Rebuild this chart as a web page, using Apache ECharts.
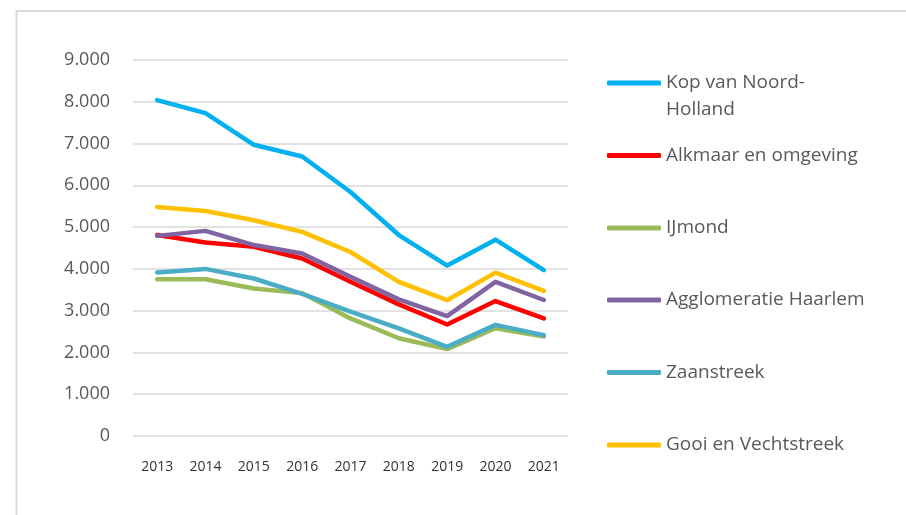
<!DOCTYPE html>
<html>
<head>
<meta charset="utf-8">
<script src="https://cdn.jsdelivr.net/npm/echarts@6/dist/echarts.min.js"></script>
<style>
html,body{margin:0;padding:0;background:#fff;}
#chart{width:906px;height:515px;}
</style>
</head>
<body>
<div id="chart"></div>
<script>
const years = ['2013','2014','2015','2016','2017','2018','2019','2020','2021'];
const seriesNames = ['Kop van Noord-Holland','Alkmaar en omgeving','IJmond','Agglomeratie Haarlem','Zaanstreek','Gooi en Vechtstreek'];
const kopVanNoordHolland = [8040, 7730, 6970, 6690, 5840, 4810, 4080, 4700, 3970];
const alkmaarEnOmgeving = [4810, 4630, 4530, 4250, 3690, 3150, 2670, 3230, 2815];
const ijmond = [3750, 3750, 3530, 3420, 2815, 2340, 2080, 2580, 2380];
const agglomeratieHaarlem = [4790, 4910, 4570, 4370, 3810, 3270, 2870, 3690, 3255];
const zaanstreek = [3915, 4000, 3770, 3400, 2975, 2575, 2135, 2660, 2415];
const gooiEnVechtstreek = [5480, 5385, 5165, 4885, 4405, 3690, 3250, 3910, 3475];
const yTicks = {min: 0, max: 9000, interval: 1000};

const values = [kopVanNoordHolland, alkmaarEnOmgeving, ijmond, agglomeratieHaarlem, zaanstreek, gooiEnVechtstreek];
const colors = ['#00b0f0', '#ff0000', '#9bbb59', '#8064a2', '#4bacc6', '#ffc000'];
const legendIconY = [83, 155.5, 228, 300, 372.5, 445];

function fmt(v) {
  if (v === 0) return '0';
  return String(v).replace(/\B(?=(\d{3})+(?!\d))/g, '.');
}

const legends = seriesNames.map(function (name, i) {
  const multi = i === 0;
  return {
    data: [name],
    orient: 'vertical',
    left: 607,
    top: multi ? legendIconY[i] - 40.5 : legendIconY[i] - 10,
    padding: 0,
    icon: 'roundRect',
    itemWidth: 54,
    itemHeight: 5,
    selectedMode: false,
    formatter: multi ? function () { return '\nKop van Noord-\nHolland'; } : '{name}',
    textStyle: multi ? {
      fontFamily: 'Open Sans', fontSize: 19, color: '#595959', lineHeight: 27
    } : {
      fontFamily: 'Open Sans', fontSize: 19, color: '#595959', lineHeight: 20
    }
  };
});

const chart = echarts.init(document.getElementById('chart'), null, {renderer: 'canvas'});
chart.setOption({
  backgroundColor: '#ffffff',
  animation: false,
  color: colors,
  graphic: [{
    type: 'rect',
    shape: {x: 16.5, y: 11, width: 900, height: 520},
    style: {fill: 'none', stroke: '#d9d9d9', lineWidth: 2},
    silent: true, z: -10
  }],
  legend: legends,
  grid: {left: 133, right: 338, top: 60, bottom: 79, containLabel: false},
  xAxis: {
    type: 'category',
    data: years,
    boundaryGap: true,
    axisLine: {show: false},
    axisTick: {show: false},
    axisLabel: {margin: 24, fontFamily: 'Open Sans', fontSize: 14, color: '#333333'}
  },
  yAxis: {
    type: 'value',
    min: yTicks.min, max: yTicks.max, interval: yTicks.interval,
    axisLine: {show: false},
    axisTick: {show: false},
    splitLine: {lineStyle: {color: '#d9d9d9', width: 1.5}},
    axisLabel: {margin: 23, fontFamily: 'Open Sans', fontSize: 18, color: '#595959', formatter: fmt}
  },
  series: seriesNames.map(function (name, i) {
    return {
      name: name,
      type: 'line',
      data: values[i],
      symbol: 'none',
      smooth: false,
      lineStyle: {width: 4.5, color: colors[i], cap: 'round', join: 'round'},
      itemStyle: {color: colors[i]}
    };
  })
});
</script>
</body>
</html>
